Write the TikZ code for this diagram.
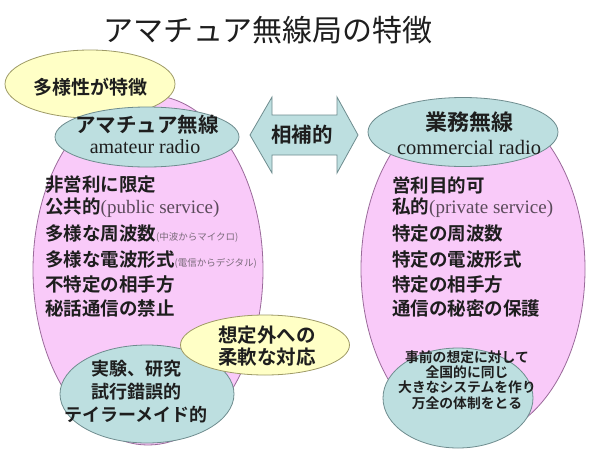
\documentclass[tikz,border=0pt]{standalone}
\usepackage{fontspec}
\setmainfont{Liberation Serif}
\newfontfamily\cjk{Noto Sans CJK JP}[BoldFont={Noto Sans CJK JP Bold}]
\usetikzlibrary{shapes.geometric}
\definecolor{pinkf}{HTML}{F9CAF9}
\definecolor{pinkd}{HTML}{9A6A9A}
\definecolor{bluef}{HTML}{BDDFE0}
\definecolor{blued}{HTML}{6E8C8E}
\definecolor{yelf}{HTML}{FFFFC6}
\definecolor{yeld}{HTML}{9E9A66}
\definecolor{txt}{HTML}{1E1E1E}
\definecolor{smallc}{HTML}{7A6A7A}
\definecolor{servc}{HTML}{5A4A5A}
\tikzset{
  ell/.style={ellipse, inner sep=0pt},
  pinkell/.style={ell, fill=pinkf, draw=pinkd, line width=0.8pt},
  blueell/.style={ell, fill=bluef, draw=blued, line width=0.8pt},
  yelell/.style={ell, fill=yelf, draw=yeld, line width=0.8pt},
  body/.style={anchor=west, inner sep=0pt, text=txt, font=\cjk\bfseries\fontsize{18.5}{20}\selectfont},
  label/.style={inner sep=0pt, text=txt, align=center},
}
\newcommand{\smalltxt}[1]{{\color{smallc}\mdseries\fontsize{9.5}{10}\selectfont #1}}
\newcommand{\sertxt}[1]{{\rmfamily\mdseries\color{servc}\fontsize{19}{20}\selectfont #1}}
\begin{document}
\begin{tikzpicture}[x=1pt,y=-1pt]
\useasboundingbox[fill=white] (0,0) rectangle (596,450);
% title
\node[label, font=\cjk\fontsize{30}{32}\selectfont] (title) at (268,30) {アマチュア無線局の特徴};
% big pink ellipses
\node[pinkell, minimum width=230pt, minimum height=350pt] (lpink) at (148,270) {};
\node[pinkell, minimum width=224pt, minimum height=338pt] (rpink) at (473,269) {};
% top-left yellow
\node[yelell, minimum width=170pt, minimum height=68pt] (yel1) at (90,84) {};
\node[label, font=\cjk\bfseries\fontsize{19}{20}\selectfont] (yel1t) at (90,87) {多様性が特徴};
% top blue ellipses
\node[blueell, minimum width=184pt, minimum height=60pt] (lblue) at (147,137) {};
\node[label, font=\cjk\bfseries\fontsize{20.5}{22}\selectfont] (lbluet) at (147,125) {アマチュア無線};
\node[label, font=\rmfamily\fontsize{20}{22}\selectfont] (lbluee) at (145,147) {amateur radio};
\node[blueell, minimum width=190pt, minimum height=69pt] (rblue) at (463,132) {};
\node[label, font=\cjk\bfseries\fontsize{22}{24}\selectfont] (rbluet) at (469,122) {業務無線};
\node[label, font=\rmfamily\fontsize{20.5}{22}\selectfont] (rbluee) at (469,147) {commercial radio};
% double arrow
\path[fill=bluef, draw=blued, line width=0.8pt] (250,135) -- (272,97) -- (272,115) -- (337,115) -- (337,97) -- (358,135) -- (337,173) -- (337,155) -- (272,155) -- (272,173) -- cycle;
\node[label, font=\cjk\bfseries\fontsize{20.5}{22}\selectfont] (comp) at (302,135) {相補的};
% left list
\node[body] (l1) at (45,185) {非営利に限定};
\node[body] (l2) at (45,208) {公共的\sertxt{(public service)}};
\node[body] (l3) at (45,234) {多様な周波数\smalltxt{(中波からマイクロ)}};
\node[body] (l4) at (45,260) {多様な電波形式\smalltxt{(電信からデジタル)}};
\node[body] (l5) at (45,284) {不特定の相手方};
\node[body] (l6) at (45,308) {秘話通信の禁止};
% right list
\node[body] (r1) at (392,185) {営利目的可};
\node[body] (r2) at (392,208) {私的\sertxt{(private service)}};
\node[body] (r3) at (392,234) {特定の周波数};
\node[body] (r4) at (392,260) {特定の電波形式};
\node[body] (r5) at (392,284) {特定の相手方};
\node[body] (r6) at (392,308) {通信の秘密の保護};
% bottom blue ellipses
\node[blueell, minimum width=174pt, minimum height=98pt] (lbot) at (147,394) {};
\node[label, font=\cjk\bfseries\fontsize{18}{23}\selectfont] (lbott) at (136,392) {実験、研究\\試行錯誤的\\テイラーメイド的};
\node[blueell, minimum width=150pt, minimum height=100pt] (rbot) at (458,398) {};
\node[label, font=\cjk\bfseries\fontsize{13.8}{15.2}\selectfont] (rbott) at (467,380) {事前の想定に対して\\全国的に同じ\\大きなシステムを作り\\万全の体制をとる};
% bottom yellow
\node[yelell, minimum width=169pt, minimum height=60pt] (yel2) at (265,345) {};
\node[label, font=\cjk\bfseries\fontsize{19.5}{22}\selectfont] (yel2t) at (267,346) {想定外への\\柔軟な対応};
\end{tikzpicture}
\end{document}
